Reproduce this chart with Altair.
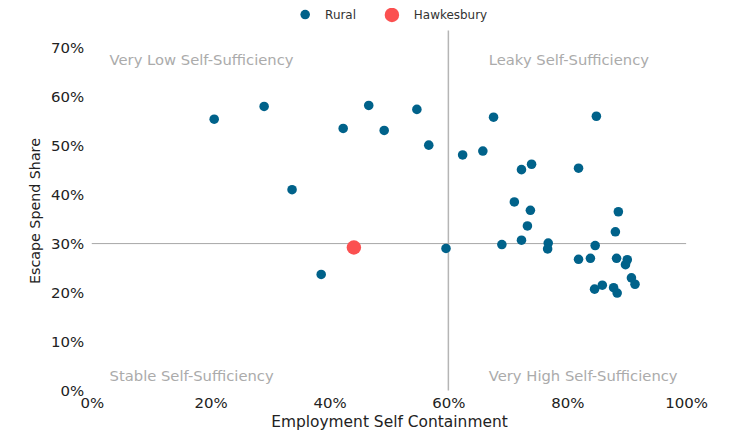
import altair as alt
import pandas as pd

# Employment self containment (x) and escape spend share (y), in fractions
rural_x = [0.206, 0.290, 0.337, 0.386, 0.423, 0.466, 0.492, 0.547, 0.567, 0.596,
           0.624, 0.658, 0.676, 0.711, 0.723, 0.740, 0.738, 0.733, 0.723, 0.690,
           0.768, 0.767, 0.849, 0.819, 0.886, 0.881, 0.847, 0.819, 0.839, 0.883,
           0.901, 0.898, 0.908, 0.914, 0.846, 0.859, 0.878, 0.884]
rural_y = [0.554, 0.580, 0.410, 0.237, 0.535, 0.582, 0.531, 0.574, 0.501, 0.290,
           0.481, 0.489, 0.558, 0.385, 0.451, 0.462, 0.368, 0.336, 0.307, 0.298,
           0.301, 0.289, 0.560, 0.454, 0.365, 0.324, 0.296, 0.268, 0.270, 0.270,
           0.267, 0.257, 0.230, 0.217, 0.207, 0.215, 0.210, 0.199]
hawk_x = [0.441]
hawk_y = [0.292]

groups = ["Rural", "Hawkesbury"]
group_colors = ["#00628a", "#fb5050"]
group_sizes = [92, 210]

quad_labels = ["Very Low Self-Sufficiency", "Leaky Self-Sufficiency",
               "Stable Self-Sufficiency", "Very High Self-Sufficiency"]
quad_x = [0.03, 0.668, 0.03, 0.668]
quad_y = [0.672, 0.672, 0.028, 0.028]

x_ref = [0.60]
y_ref = [0.30]

df = pd.DataFrame({
    "esc": rural_x + hawk_x,
    "share": rural_y + hawk_y,
    "group": ["Rural"] * len(rural_x) + ["Hawkesbury"] * len(hawk_x),
})
qdf = pd.DataFrame({"label": quad_labels, "x": quad_x, "y": quad_y})

xs = alt.Scale(domain=[0, 1], nice=False)
ys = alt.Scale(domain=[0, 0.735], nice=False)

vline = alt.Chart(pd.DataFrame({"x": x_ref})).mark_rule(color="#b5b5b5", strokeWidth=1.5).encode(
    x=alt.X("x:Q", scale=xs)
)
hline = alt.Chart(pd.DataFrame({"y": y_ref})).mark_rule(color="#a8a8a8", strokeWidth=1).encode(
    y=alt.Y("y:Q", scale=ys)
)

quads = alt.Chart(qdf).mark_text(align="left", baseline="middle", fontSize=14.8,
                                 color="#ababab", font="DejaVu Sans").encode(
    x=alt.X("x:Q", scale=xs),
    y=alt.Y("y:Q", scale=ys),
    text="label:N",
)

legend = alt.Legend(title=None, orient="none", direction="horizontal",
                    legendX=208, legendY=-24, labelFontSize=12,
                    labelFont="DejaVu Sans", labelColor="#333",
                    columnPadding=27, labelOffset=14)

points = alt.Chart(df).mark_circle(opacity=1).encode(
    x=alt.X("esc:Q", scale=xs, title="Employment Self Containment",
            axis=alt.Axis(format=".0%", values=[0, 0.2, 0.4, 0.6, 0.8, 1.0],
                          labelFlush=False, labelOverlap=False, titleFontSize=15.5)),
    y=alt.Y("share:Q", scale=ys, title="Escape Spend Share",
            axis=alt.Axis(format=".0%", values=[0, 0.1, 0.2, 0.3, 0.4, 0.5, 0.6, 0.7],
                          labelOverlap=False, titleFontSize=14.3)),
    color=alt.Color("group:N", scale=alt.Scale(domain=groups, range=group_colors),
                    legend=legend),
    size=alt.Size("group:N", scale=alt.Scale(domain=groups, range=group_sizes),
                  legend=legend),
    order=alt.Order("group:N", sort="descending"),
)

chart = alt.layer(vline, hline, quads, points).properties(
    width=596, height=361,
    autosize=alt.AutoSizeParams(type="none"),
    padding={"left": 84, "top": 22, "right": 40, "bottom": 45},
).configure_view(stroke=None).configure_axis(
    domain=False, ticks=False, grid=False,
    labelFont="DejaVu Sans", labelFontSize=15, labelColor="#222",
    titleFont="DejaVu Sans", titleFontWeight="normal", titleColor="#222",
).configure_axisX(labelPadding=5, titlePadding=4).configure_axisY(labelPadding=8, titlePadding=8)

chart.save("out.html", embed_options={"renderer": "svg", "actions": False})
